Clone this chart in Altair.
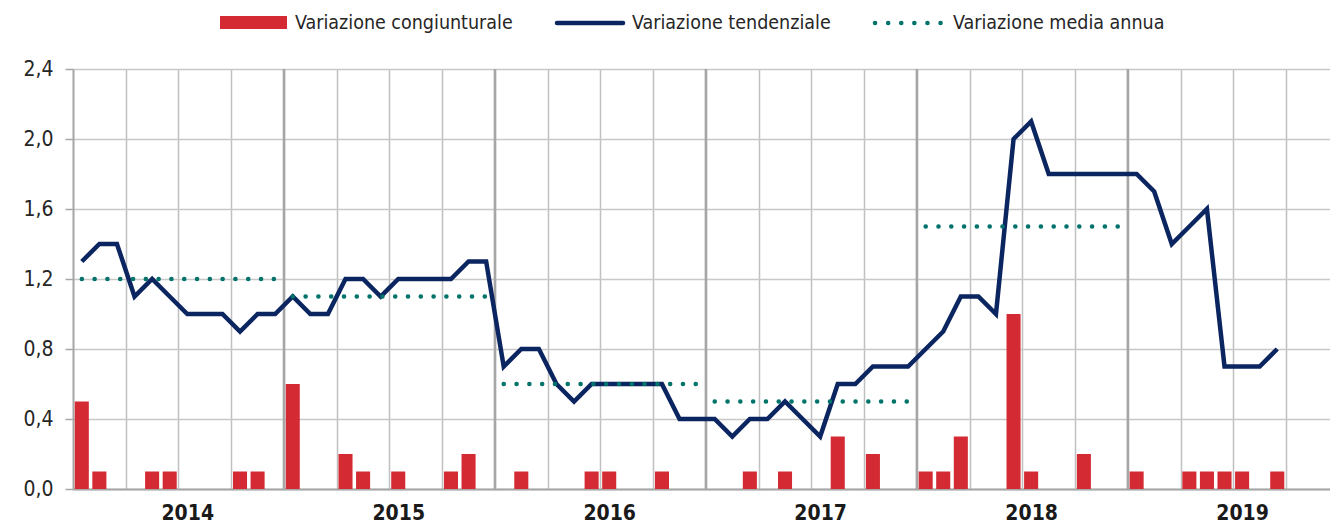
import altair as alt
import pandas as pd

FONT = "'DejaVu Sans Condensed', 'Liberation Sans', sans-serif"

years = [2014, 2015, 2016, 2017, 2018, 2019]

# monthly values, Jan 2014 .. Sep 2019
congiunturale = [
    0.5, 0.1, 0.0, 0.0, 0.1, 0.1, 0.0, 0.0, 0.0, 0.1, 0.1, 0.0,
    0.6, 0.0, 0.0, 0.2, 0.1, 0.0, 0.1, 0.0, 0.0, 0.1, 0.2, 0.0,
    0.0, 0.1, 0.0, 0.0, 0.0, 0.1, 0.1, 0.0, 0.0, 0.1, 0.0, 0.0,
    0.0, 0.0, 0.1, 0.0, 0.1, 0.0, 0.0, 0.3, 0.0, 0.2, 0.0, 0.0,
    0.1, 0.1, 0.3, 0.0, 0.0, 1.0, 0.1, 0.0, 0.0, 0.2, 0.0, 0.0,
    0.1, 0.0, 0.0, 0.1, 0.1, 0.1, 0.1, 0.0, 0.1,
]
tendenziale = [
    1.3, 1.4, 1.4, 1.1, 1.2, 1.1, 1.0, 1.0, 1.0, 0.9, 1.0, 1.0,
    1.1, 1.0, 1.0, 1.2, 1.2, 1.1, 1.2, 1.2, 1.2, 1.2, 1.3, 1.3,
    0.7, 0.8, 0.8, 0.6, 0.5, 0.6, 0.6, 0.6, 0.6, 0.6, 0.4, 0.4,
    0.4, 0.3, 0.4, 0.4, 0.5, 0.4, 0.3, 0.6, 0.6, 0.7, 0.7, 0.7,
    0.8, 0.9, 1.1, 1.1, 1.0, 2.0, 2.1, 1.8, 1.8, 1.8, 1.8, 1.8,
    1.8, 1.7, 1.4, 1.5, 1.6, 0.7, 0.7, 0.7, 0.8,
]
media_years = [2014, 2015, 2016, 2017, 2018]
media_annua = [1.2, 1.1, 0.6, 0.5, 1.5]

y_ticks = [0.0, 0.4, 0.8, 1.2, 1.6, 2.0, 2.4]

RED = "#D42A33"
NAVY = "#0B2561"
TEAL = "#00736A"

W, H = 1257, 420

m = list(range(len(tendenziale)))
df = pd.DataFrame({
    "m": m,
    "cong": congiunturale,
    "tend": tendenziale,
})
df["x0"] = df["m"] + 0.1
df["x1"] = df["m"] + 0.9
df["xc"] = df["m"] + 0.5

ann = pd.DataFrame({"year": media_years, "val": media_annua})
ann["s"] = (ann["year"] - years[0]) * 12 + 0.5
ann["e"] = ann["s"] + 11

ylines = pd.DataFrame({"b": [(y - years[0]) * 12 for y in years[1:]]})

xscale = alt.Scale(domain=[0, 71.5], nice=False, zero=False)
yscale = alt.Scale(domain=[0, 2.4], nice=False)

y_axis = alt.Axis(
    values=y_ticks,
    labelExpr="replace(format(datum.value, '.1f'), '.', ',')",
    grid=True, gridColor="#C8C8C8", gridWidth=1.5,
    domainColor="#A6A6A6", domainWidth=2,
    tickColor="#A6A6A6", tickSize=8, tickWidth=1.5,
    labelFont=FONT, labelFontSize=21, labelColor="#262626",
    labelPadding=12, title=None,
)

grid_axis = alt.Axis(
    values=list(range(3, 72, 3)),
    grid=True, gridColor="#C0C0C0", gridWidth=1.5,
    labels=False, ticks=False,
    domain=True, domainColor="#A6A6A6", domainWidth=2,
    title=None, orient="bottom",
)
year_axis = alt.Axis(
    values=[(y - years[0]) * 12 + 6.5 for y in years],
    labelExpr="'' + (floor(datum.value / 12) + 2014)",
    grid=False, ticks=False, domain=False,
    labelFont=FONT, labelFontSize=21, labelFontWeight="bold",
    labelColor="#1A1A1A", labelPadding=13,
    title=None, orient="bottom",
)

bars = alt.Chart(df).mark_rect(color=RED).encode(
    x=alt.X("x0:Q", scale=xscale, axis=grid_axis),
    x2="x1:Q",
    y=alt.Y("cong:Q", scale=yscale, axis=y_axis),
    y2=alt.datum(0),
)

yrules = alt.Chart(ylines).mark_rule(color="#A6A6A6", strokeWidth=2.5).encode(
    x=alt.X("b:Q", scale=xscale, axis=None),
    y=alt.value(0), y2=alt.value(H),
)

line = alt.Chart(df).mark_line(color=NAVY, strokeWidth=4.5).encode(
    x=alt.X("xc:Q", scale=xscale, axis=year_axis),
    y=alt.Y("tend:Q", scale=yscale, axis=y_axis),
)

dots = alt.Chart(ann).mark_rule(
    color=TEAL, strokeWidth=4.5, strokeCap="round", strokeDash=[0.1, 12.7]
).encode(
    x=alt.X("s:Q", scale=xscale, axis=None),
    x2="e:Q",
    y=alt.Y("val:Q", scale=yscale, axis=y_axis),
)

one = pd.DataFrame({"k": [0]})
LY = -46
leg_rect = alt.Chart(one).mark_rect(color=RED).encode(
    x=alt.value(147), x2=alt.value(214), y=alt.value(LY - 7), y2=alt.value(LY + 6)
)
leg_line = alt.Chart(one).mark_rule(color=NAVY, strokeWidth=4.5, strokeCap="round").encode(
    x=alt.value(484), x2=alt.value(550), y=alt.value(LY)
)
leg_dots = alt.Chart(one).mark_rule(
    color=TEAL, strokeWidth=4.5, strokeCap="round", strokeDash=[0.1, 13.0]
).encode(x=alt.value(802), x2=alt.value(869), y=alt.value(LY))

def leg_text(txt, x):
    return alt.Chart(pd.DataFrame({"t": [txt]})).mark_text(
        align="left", baseline="middle", font=FONT, fontSize=19.5, color="#262626"
    ).encode(x=alt.value(x), y=alt.value(LY), text="t:N")

chart = alt.layer(
    bars, yrules, line, dots,
    leg_rect, leg_line, leg_dots,
    leg_text("Variazione congiunturale", 222),
    leg_text("Variazione tendenziale", 559),
    leg_text("Variazione media annua", 880),
).resolve_axis(x="independent").properties(
    width=W, height=H,
    padding={"left": 73, "top": 69, "right": 0, "bottom": 37},
    autosize=alt.AutoSizeParams(type="none"),
).configure_view(stroke=None).configure(background="white")

chart.save("out.html", embed_options={"renderer": "svg", "actions": False})
